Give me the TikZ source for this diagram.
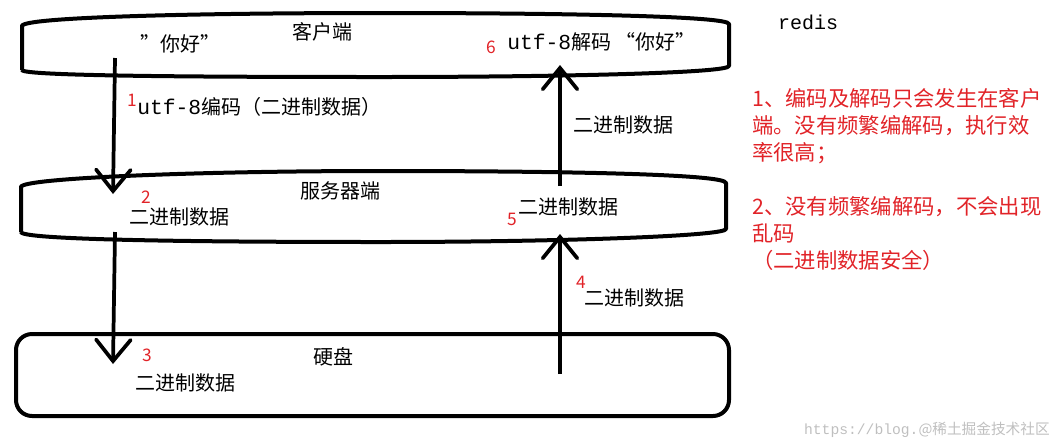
\documentclass[tikz,border=0pt]{standalone}
\usepackage{fontspec}
\setmainfont{Noto Sans CJK SC}
\newfontfamily\monofont{Liberation Mono}
\usetikzlibrary{arrows.meta}
\definecolor{notered}{RGB}{225,35,40}

\begin{document}
\begin{tikzpicture}[x=0.75pt, y=-0.75pt,
    every node/.style={font=\fontsize{15}{20}\selectfont, inner sep=0pt},
    box/.style={line width=3pt, line join=round},
    flow/.style={line width=2.8pt, -{Straight Barb[length=16pt, width=26pt, line cap=round]}},
    stepnum/.style={text=notered, font=\fontsize{13}{15}\selectfont},
    note/.style={text=notered, anchor=west, align=left, font=\fontsize{16}{20.25}\selectfont}]
  \useasboundingbox (0,0) rectangle (1057,444);
  % client
  \draw[box] (22,70) -- (22,26) .. controls (22,17) and (200,13) .. (380,13)
    .. controls (560,13) and (729,16) .. (729,24) -- (729,66)
    .. controls (729,73) and (560,77) .. (380,77) .. controls (200,77) and (22,76) .. (22,70);
  % server
  \draw[box] (21,232) -- (21,187) .. controls (21,178) and (200,171) .. (380,171)
    .. controls (560,171) and (726,174) .. (726,183) -- (726,229)
    .. controls (726,236) and (560,242) .. (380,242) .. controls (200,242) and (21,240) .. (21,232);
  % disk
  \draw[box, rounded corners=12] (16,334) rectangle (729,416);

  \node (client) at (322,32) {客户端};
  \node (server) at (340,191) {服务器端};
  \node (disk) at (333,357) {硬盘};

  % flow points
  \coordinate (a1) at (115,58);
  \coordinate (b1) at (113,194);
  \coordinate (a2) at (115,232);
  \coordinate (b2) at (113,364);
  \coordinate (a4) at (560,374);
  \coordinate (b4) at (560,234);
  \coordinate (a5) at (560,186);
  \coordinate (b5) at (560,65);
  \draw[flow] (a1) -- (b1);
  \draw[flow] (a2) -- (b2);
  \draw[flow] (a4) -- (b4);
  \draw[flow] (a5) -- (b5);

  % labels
  \node (hello) at (180,44) {”你好”};
  \node[stepnum] (n1) at (132,100) {1};
  \node[anchor=west] (enc) at (137,107) {{\monofont\fontsize{16}{20}\selectfont utf-8}编码（二进制数据）};
  \node[stepnum] (n2) at (146,197) {2};
  \node (bin2) at (179,217) {二进制数据};
  \node[stepnum] (n3) at (147,355) {3};
  \node (bin3) at (185,383) {二进制数据};
  \node[stepnum] (n4) at (581,282) {4};
  \node (bin4) at (634,298) {二进制数据};
  \node[stepnum] (n5) at (512,219) {5};
  \node (bin5) at (568,207) {二进制数据};
  \node (bin6) at (623,125) {二进制数据};
  \node[stepnum] (n6) at (491,47) {6};
  \node[anchor=west] (dec) at (507,42) {{\monofont\fontsize{16}{20}\selectfont utf-8}解码 “你好”};

  % notes
  \node[font=\monofont\fontsize{15}{18}\selectfont] (redis) at (808,22) {redis};
  \node[note] (note1) at (752,126) {1、编码及解码只会发生在客户\\端。没有频繁编解码，执行效\\率很高；};
  \node[note] (note2) at (752,233) {2、没有频繁编解码，不会出现\\乱码\\（二进制数据安全）};
  \node[anchor=east, text=black!25, font=\fontsize{11}{13}\selectfont] (mark) at (1050,430) {{\monofont https://blog.}@稀土掘金技术社区};
\end{tikzpicture}
\end{document}
